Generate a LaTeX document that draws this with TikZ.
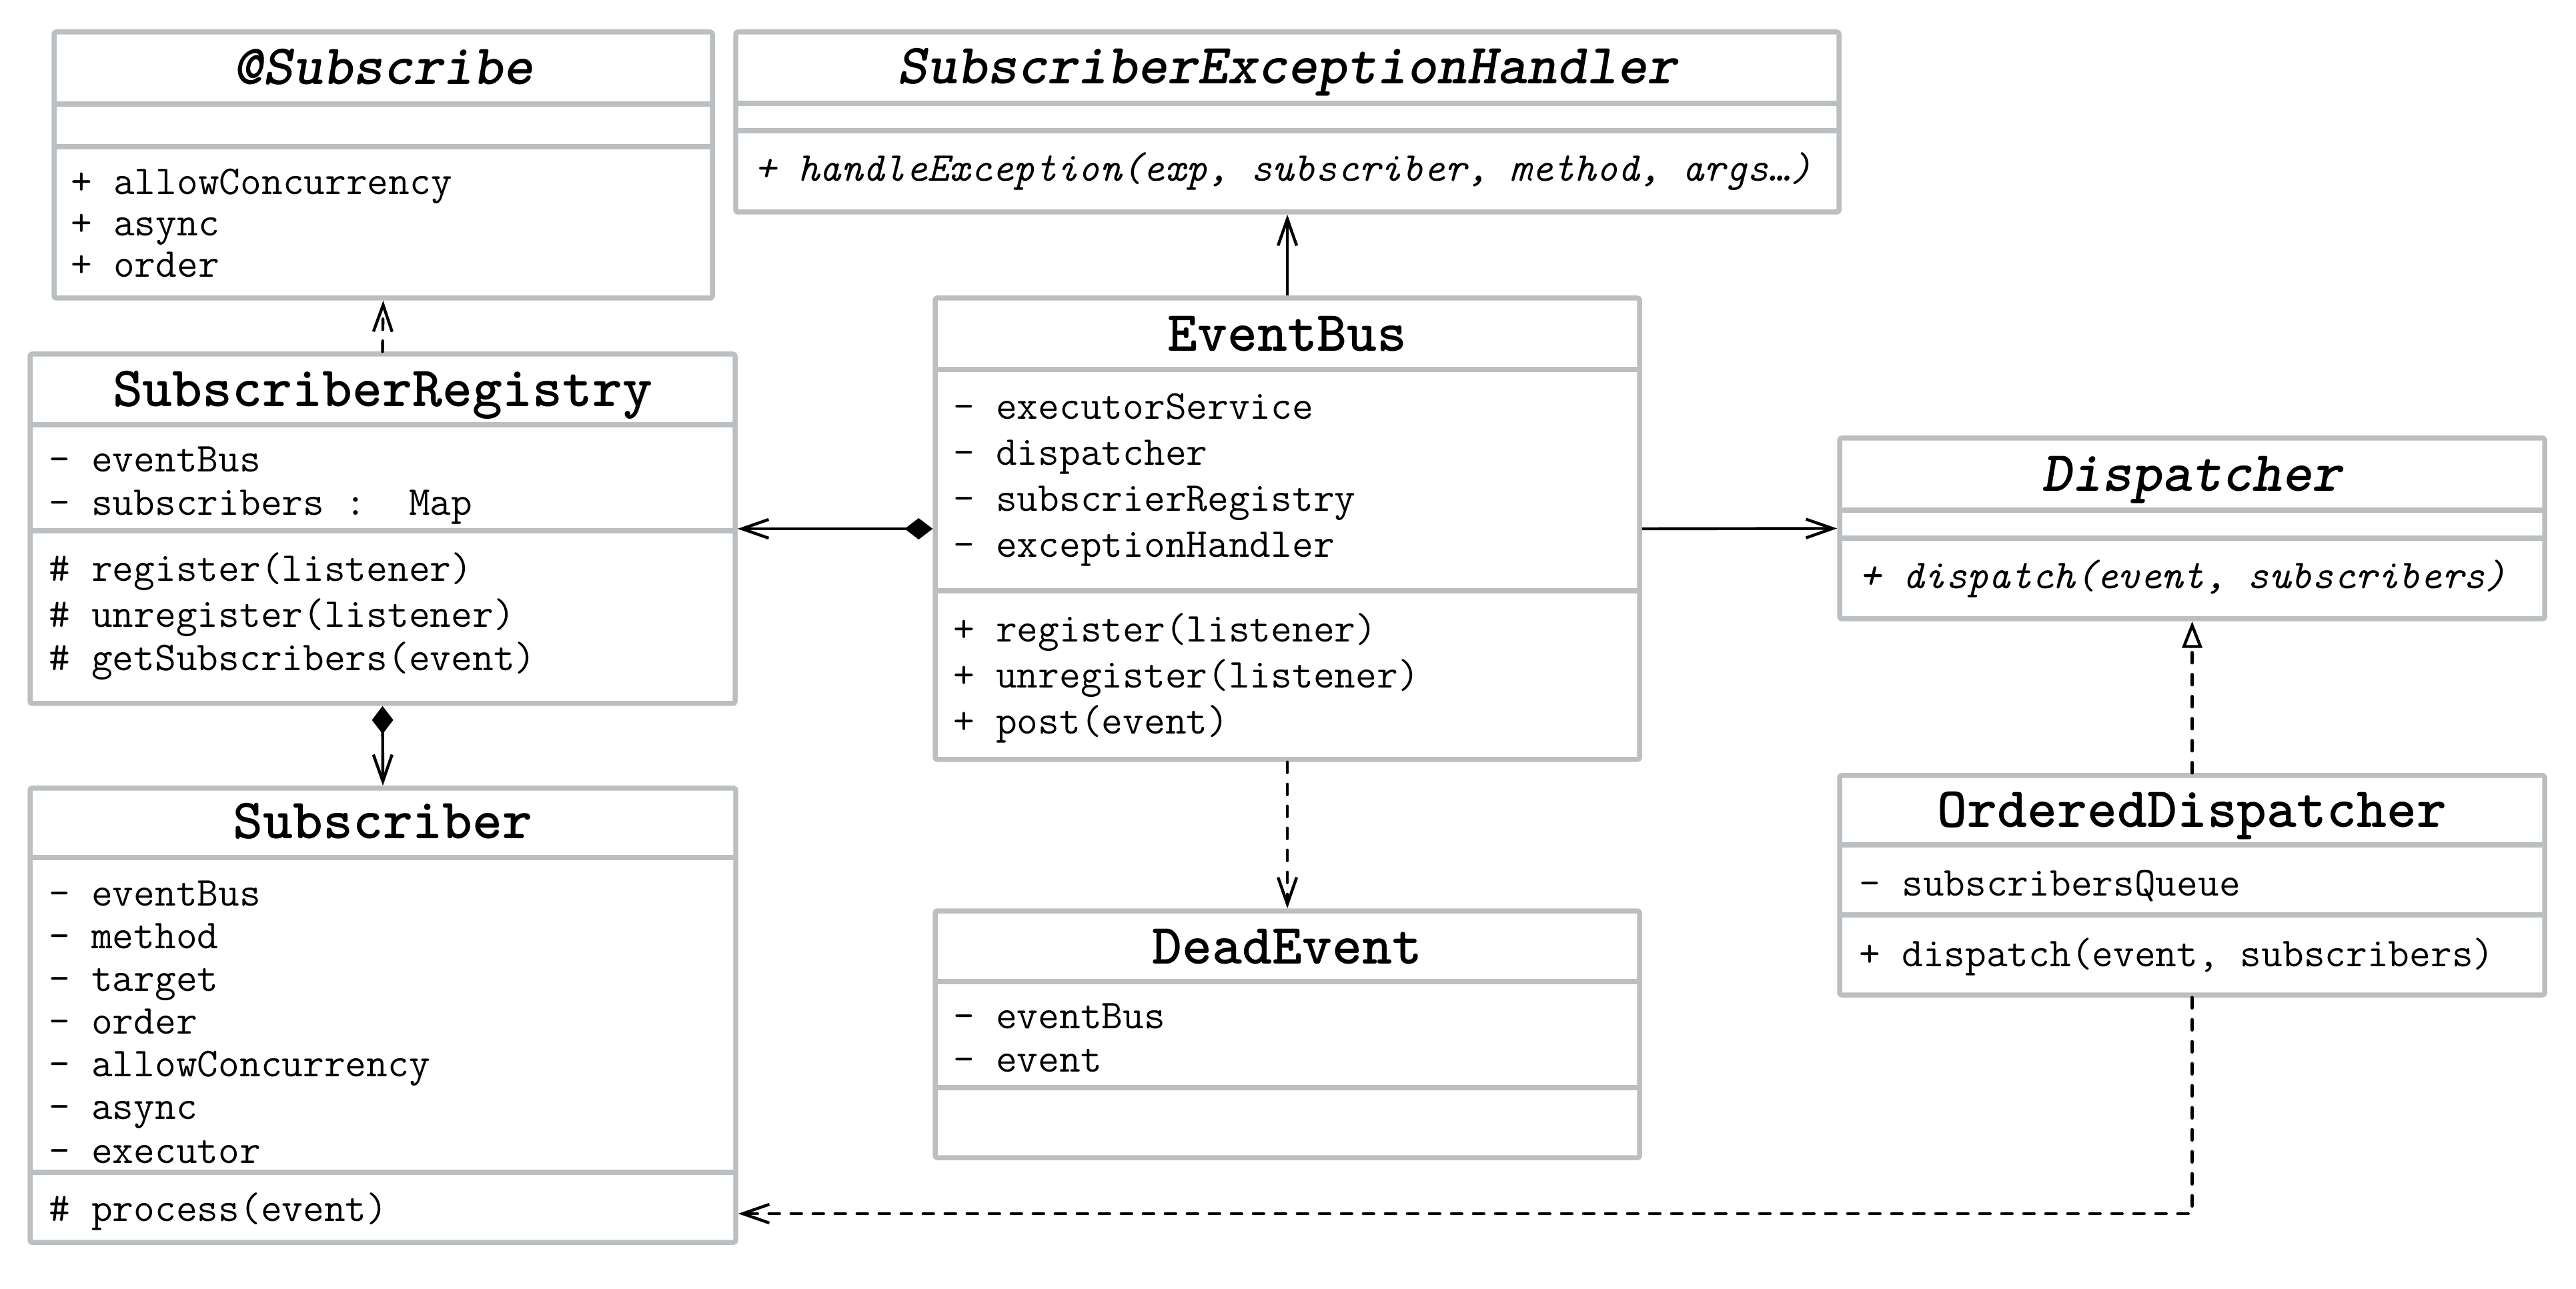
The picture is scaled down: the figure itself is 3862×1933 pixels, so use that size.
\documentclass[tikz,border=0pt]{standalone}
\usetikzlibrary{arrows.meta}

\definecolor{framegray}{RGB}{187,191,193}

% class frame: name, x1, y1, x2, y2 (pixel-like units, y grows downwards)
\newcommand\classframe[5]{%
  \node[classbox, minimum width={(#4-#2)*0.25pt}, minimum height={(#5-#3)*0.25pt}]
    (#1) at ({(#2+#4)/2},{(#3+#5)/2}) {};}
% compartment separator: x1, x2, y
\newcommand\classrule[3]{\draw[classsep] (#1,#3) -- (#2,#3);}

\tikzset{
  classbox/.style={rectangle, draw=framegray, line width=1.875pt, fill=white,
    rounded corners=0.8pt, inner sep=0pt},
  classsep/.style={draw=framegray, line width=1.875pt},
  member/.style={anchor=base west, inner sep=0pt, yshift=-1.25pt,
    font=\fontsize{15.4}{18}\ttfamily},
  amember/.style={member, font=\fontsize{15.4}{18}\ttfamily\itshape},
  cname/.style={anchor=base, inner sep=0pt, yshift=-1pt,
    font=\fontsize{21.4}{25}\ttfamily\bfseries},
  aname/.style={cname, font=\fontsize{21.4}{25}\ttfamily\bfseries\slshape},
  link/.style={line width=1.1pt, black},
  dashlink/.style={link, line cap=round, dash pattern=on 4pt off 4.25pt},
  barb/.style={-{Straight Barb[length=10pt, width=7pt]}},
  owner/.style={{Diamond[length=10.5pt, width=8pt]}-{Straight Barb[length=10pt, width=7pt]}},
  realize/.style={-{Triangle[open, fill=white, length=10pt, width=7.5pt]}}
}

\begin{document}
\begin{tikzpicture}[x=0.25pt, y=-0.25pt]
\useasboundingbox (0,0) rectangle (3862,1933);

% ---------- @Subscribe ----------
\classframe{subscribe}{81}{48}{1068}{447}
\classrule{81}{1068}{156}
\classrule{81}{1068}{220}
\node[aname] (subscribe-t) at (574.5,123) {@Subscribe};
\node[member] (subscribe-m1) at (106,287) {+ allowConcurrency};
\node[member] (subscribe-m2) at (106,349) {+ async};
\node[member] (subscribe-m3) at (106,411) {+ order};

% ---------- SubscriberExceptionHandler ----------
\classframe{seh}{1103}{48}{2757}{318}
\classrule{1103}{2757}{155}
\classrule{1103}{2757}{196}
\node[aname] (seh-t) at (1930,122) {SubscriberExceptionHandler};
\node[amember] (seh-m1) at (1131,267) {+ handleException(exp, subscriber, method, args…)};

% ---------- SubscriberRegistry ----------
\classframe{sr}{45}{531}{1102}{1055}
\classrule{45}{1102}{637}
\classrule{45}{1102}{796}
\node[cname] (sr-t) at (573.5,606) {SubscriberRegistry};
\node[member] (sr-a1) at (73,703) {- eventBus};
\node[member] (sr-a2) at (73,768) {- subscribers :\ \ Map};
\node[member] (sr-m1) at (73,867) {\# register(listener)};
\node[member] (sr-m2) at (73,936) {\# unregister(listener)};
\node[member] (sr-m3) at (73,1001) {\# getSubscribers(event)};

% ---------- Subscriber ----------
\classframe{subscriber}{45}{1182}{1103}{1863}
\classrule{45}{1103}{1286}
\classrule{45}{1103}{1758}
\node[cname] (subscriber-t) at (574,1254) {Subscriber};
\node[member] (subscriber-a1) at (73,1353) {- eventBus};
\node[member] (subscriber-a2) at (73,1417) {- method};
\node[member] (subscriber-a3) at (73,1481) {- target};
\node[member] (subscriber-a4) at (73,1545) {- order};
\node[member] (subscriber-a5) at (73,1609) {- allowConcurrency};
\node[member] (subscriber-a6) at (73,1673) {- async};
\node[member] (subscriber-a7) at (73,1739) {- executor};
\node[member] (subscriber-m1) at (73,1826) {\# process(event)};

% ---------- EventBus ----------
\classframe{eb}{1402}{447}{2458}{1139}
\classrule{1402}{2458}{554}
\classrule{1402}{2458}{886}
\node[cname] (eb-t) at (1930,523) {EventBus};
\node[member] (eb-a1) at (1429,624) {- executorService};
\node[member] (eb-a2) at (1429,693) {- dispatcher};
\node[member] (eb-a3) at (1429,762) {- subscrierRegistry};
\node[member] (eb-a4) at (1429,831) {- exceptionHandler};
\node[member] (eb-m1) at (1429,958) {+ register(listener)};
\node[member] (eb-m2) at (1429,1027) {+ unregister(listener)};
\node[member] (eb-m3) at (1429,1096) {+ post(event)};

% ---------- DeadEvent ----------
\classframe{dead}{1402}{1366}{2458}{1736}
\classrule{1402}{2458}{1472}
\classrule{1402}{2458}{1631}
\node[cname] (dead-t) at (1930,1441) {DeadEvent};
\node[member] (dead-a1) at (1429,1537) {- eventBus};
\node[member] (dead-a2) at (1429,1602) {- event};

% ---------- Dispatcher ----------
\classframe{disp}{2758}{657}{3815}{928}
\classrule{2758}{3815}{765}
\classrule{2758}{3815}{807}
\node[aname] (disp-t) at (3286.5,733) {Dispatcher};
\node[amember] (disp-m1) at (2787,878) {+ dispatch(event, subscribers)};

% ---------- OrderedDispatcher ----------
\classframe{od}{2758}{1163}{3815}{1492}
\classrule{2758}{3815}{1267}
\classrule{2758}{3815}{1372}
\node[cname] (od-t) at (3286.5,1236) {OrderedDispatcher};
\node[member] (od-a1) at (2787,1338) {- subscribersQueue};
\node[member] (od-m1) at (2787,1444) {+ dispatch(event, subscribers)};

% ---------- relations ----------
\coordinate (od-bend) at (3286.5,1820);

\draw[dashlink, barb] (sr.north) -- (subscribe.south);
\draw[link, owner] (sr.south) -- (subscriber.north);
\draw[link, owner] (eb.west) -- (sr.east);
\draw[link, barb] (eb.north) -- (seh.south);
\draw[link, barb] (eb.east) -- (disp.west);
\draw[dashlink, barb] (eb.south) -- (dead.north);
\draw[dashlink, realize] (od.north) -- (disp.south);
\draw[dashlink, barb] (od.south) -- (od-bend) -- (subscriber.east |- od-bend);
\end{tikzpicture}
\end{document}
